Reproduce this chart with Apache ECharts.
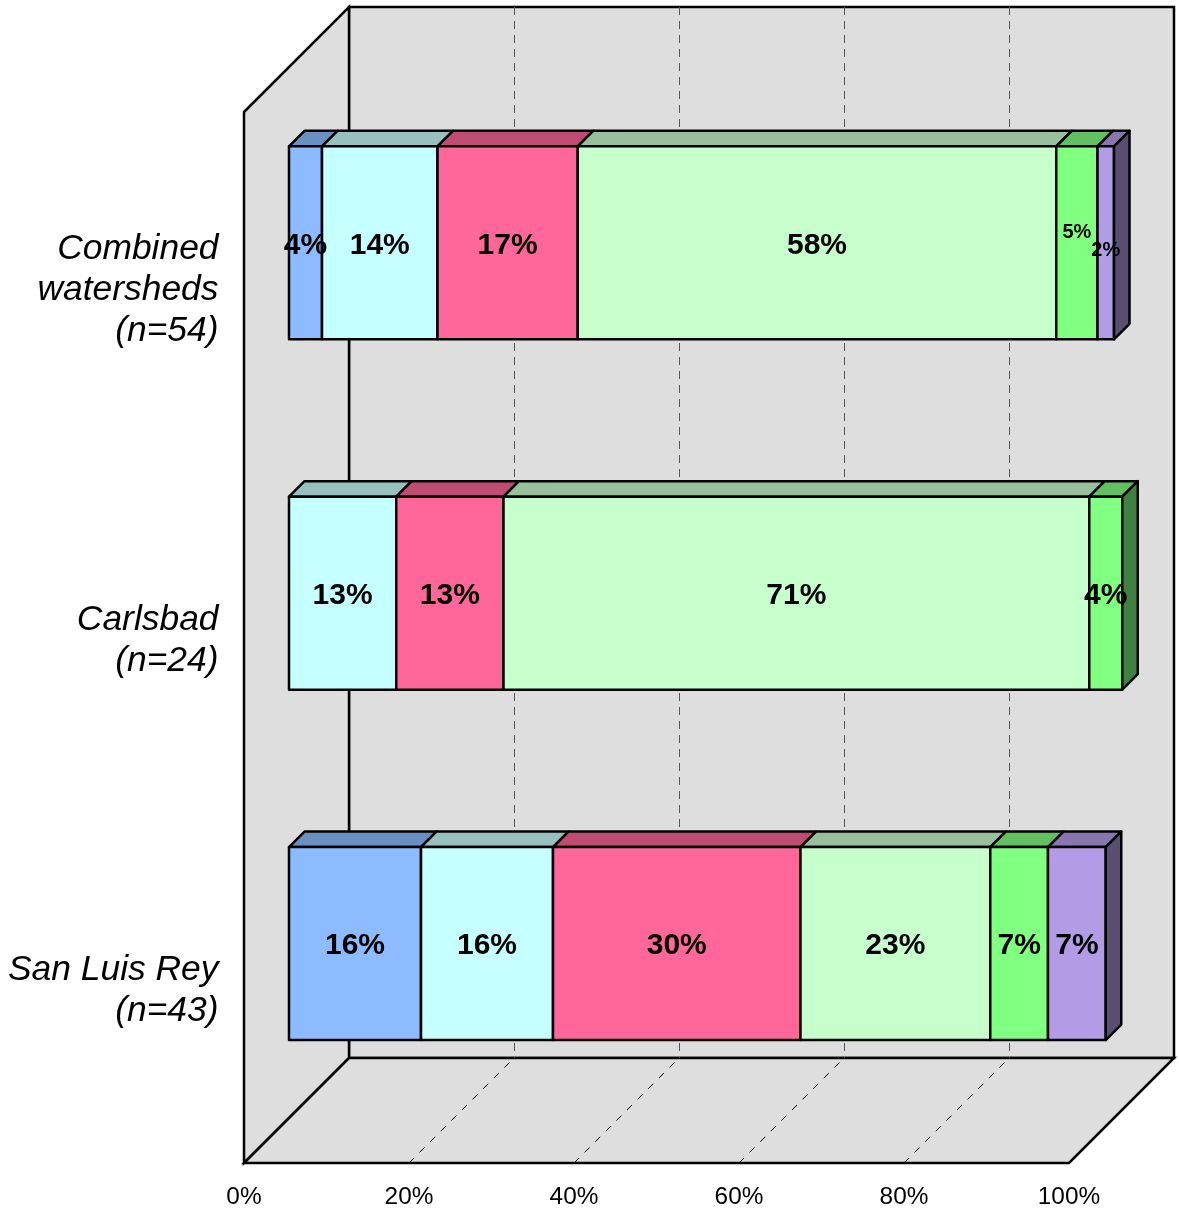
<!DOCTYPE html>
<html>
<head>
<meta charset="utf-8">
<style>html,body{margin:0;padding:0;background:#fff}#chart{width:1179px;height:1209px}</style>
<script src="https://cdn.jsdelivr.net/npm/echarts@6/dist/echarts.min.js"></script>
</head>
<body>
<div id="chart"></div>
<script>
// Share of sites per class, in percent, by watershed
const categories = ['Combined\nwatersheds\n(n=54)', 'Carlsbad\n(n=24)', 'San Luis Rey\n(n=43)'];
const blueValues = [4, 0, 16];
const cyanValues = [14, 13, 16];
const pinkValues = [17, 13, 30];
const paleGreenValues = [58, 71, 23];
const greenValues = [5, 4, 7];
const purpleValues = [2, 0, 7];
const axisTicks = [0, 20, 40, 60, 80, 100];

const stacks = [
  { values: blueValues, front: '#8cbcff', top: '#6a8fc2', side: '#465e80' },
  { values: cyanValues, front: '#c6ffff', top: '#98c0bf', side: '#638080' },
  { values: pinkValues, front: '#ff6699', top: '#bf4d73', side: '#80334d' },
  { values: paleGreenValues, front: '#c6ffcc', top: '#98c09c', side: '#638066' },
  { values: greenValues, front: '#80ff80', top: '#62bf62', side: '#408040' },
  { values: purpleValues, front: '#b39ce6', top: '#8976b0', side: '#5a4e73' }
];

// Oblique projection: the box is drawn back and to the right of the axis plane
const BOX_DEPTH = 105;
const BAR_OFFSET = 45;
const BAR_RISE = 44.3;
const BAR_DEPTH = 15.5;
const BAR_BAND_RATIO = 193 / 350.33;
const LINE_WIDTH = 2.5;
const LABEL_DROP = 2.5;
const CATEGORY_GAP = 25.5;
const CATEGORY_DROP = 3;
const FONT = '"Liberation Sans", Arial, sans-serif';
const WALL = { fill: '#dedede', stroke: '#000', lineWidth: LINE_WIDTH, lineJoin: 'miter' };

// Hand-placed labels on the two narrow end segments of the first bar
const labelTweaks = { '0-4': { size: 20, dy: -13 }, '0-5': { size: 20, dy: 5 } };

function poly(points, fill, z2) {
  return {
    type: 'polygon', z2: z2 || 0,
    shape: { points: points },
    style: { fill: fill, stroke: '#000', lineWidth: LINE_WIDTH, lineJoin: 'round' }
  };
}

function renderBox(params, api) {
  const cs = params.coordSys;
  const l = cs.x, r = cs.x + cs.width, t = cs.y, b = cs.y + cs.height, d = BOX_DEPTH;
  const children = [
    { type: 'polygon', shape: { points: [[l + d, t - d], [r + d, t - d], [r + d, b - d], [l + d, b - d]] }, style: WALL },
    { type: 'polygon', shape: { points: [[l, t], [l + d, t - d], [l + d, b - d], [l, b]] }, style: WALL },
    { type: 'polygon', shape: { points: [[l, b], [l + d, b - d], [r + d, b - d], [r, b]] }, style: WALL }
  ];
  axisTicks.slice(1, -1).forEach(function (tick) {
    const x = Math.round(api.coord([tick, 0])[0]);
    children.push({
      type: 'line', z2: 2,
      shape: { x1: x + d + 0.5, y1: t - d, x2: x + d + 0.5, y2: b - d },
      style: { stroke: '#555', lineWidth: 1, lineDash: [8, 6] }
    });
    children.push({
      type: 'line', z2: 2,
      shape: { x1: x, y1: b, x2: x + d, y2: b - d },
      style: { stroke: '#000', lineWidth: 1, lineDash: [7, 8] }
    });
  });
  return { type: 'group', children: children };
}

function renderSegment(params, api) {
  const cat = api.value(0), from = api.value(1), to = api.value(2), last = api.value(3);
  const mid = api.coord([0, cat])[1] - BAR_RISE;
  const half = api.size([0, 1])[1] * BAR_BAND_RATIO / 2;
  const x0 = api.coord([from, cat])[0] + BAR_OFFSET;
  const x1 = api.coord([to, cat])[0] + BAR_OFFSET;
  const y0 = mid - half, y1 = mid + half, d = BAR_DEPTH;
  const style = stacks[params.seriesIndex - 1];
  const children = [
    poly([[x0, y0], [x0 + d, y0 - d], [x1 + d, y0 - d], [x1, y0]], style.top),
    poly([[x0, y0], [x1, y0], [x1, y1], [x0, y1]], style.front)
  ];
  if (last) {
    children.push(poly([[x1, y0], [x1 + d, y0 - d], [x1 + d, y1 - d], [x1, y1]], style.side));
  }
  return { type: 'group', children: children };
}

function renderLabel(params, api) {
  const cat = api.value(0), from = api.value(1), to = api.value(2), stack = api.value(3);
  const tweak = labelTweaks[cat + '-' + stack] || {};
  const x = api.coord([(from + to) / 2, cat])[0] + BAR_OFFSET;
  const y = api.coord([0, cat])[1] - BAR_RISE + LABEL_DROP + (tweak.dy || 0);
  return {
    type: 'text',
    style: {
      x: x, y: y, text: Math.round(to - from) + '%',
      fill: '#000', align: 'center', verticalAlign: 'middle',
      font: 'bold ' + (tweak.size || 30) + 'px ' + FONT
    }
  };
}

// Watershed names sit a little below their band centres, left of the box
function renderCategory(params, api) {
  const cat = api.value(0);
  const p = api.coord([0, cat]);
  return {
    type: 'text',
    style: {
      x: p[0] - CATEGORY_GAP, y: p[1] + CATEGORY_DROP, text: categories[cat],
      fill: '#000', align: 'right', verticalAlign: 'middle', lineHeight: 41,
      font: 'italic 35.4px ' + FONT
    }
  };
}

// Cumulative spans of each class along its bar
const running = categories.map(function () { return 0; });
const lastStack = categories.map(function (_, c) {
  let idx = -1;
  stacks.forEach(function (s, i) { if (s.values[c] > 0) idx = i; });
  return idx;
});
const labelRows = [];
const segmentSeries = stacks.map(function (stack, i) {
  const rows = [];
  stack.values.forEach(function (v, c) {
    if (v > 0) {
      rows.push([c, running[c], running[c] + v, lastStack[c] === i ? 1 : 0]);
      labelRows.push([c, running[c], running[c] + v, i]);
      running[c] += v;
    }
  });
  return {
    type: 'custom', z: 3, clip: false, silent: true,
    renderItem: renderSegment, data: rows,
    encode: { x: [1, 2], y: 0 }
  };
});

const chart = echarts.init(document.getElementById('chart'), null, { renderer: 'canvas' });
chart.setOption({
  animation: false,
  backgroundColor: '#fff',
  grid: { left: 244, top: 112, width: 825, height: 1051, containLabel: false },
  xAxis: {
    type: 'value', min: 0, max: 100, interval: 20,
    axisLine: { show: false }, axisTick: { show: false }, splitLine: { show: false },
    axisLabel: { formatter: '{value}%', margin: 22, color: '#000', fontFamily: FONT, fontSize: 24.4 }
  },
  yAxis: {
    type: 'category', inverse: true, data: categories,
    axisLine: { show: false }, axisTick: { show: false }, splitLine: { show: false },
    axisLabel: { show: false }
  },
  series: [
    { type: 'custom', z: 1, clip: false, silent: true, renderItem: renderBox, data: [[0, 0]], encode: { x: 1, y: 0 } }
  ].concat(segmentSeries, [
    { type: 'custom', z: 5, clip: false, silent: true, renderItem: renderLabel, data: labelRows, encode: { x: [1, 2], y: 0 } },
    { type: 'custom', z: 5, clip: false, silent: true, renderItem: renderCategory, data: categories.map(function (_, c) { return [c, 0]; }), encode: { x: 1, y: 0 } }
  ])
});
</script>
</body>
</html>
